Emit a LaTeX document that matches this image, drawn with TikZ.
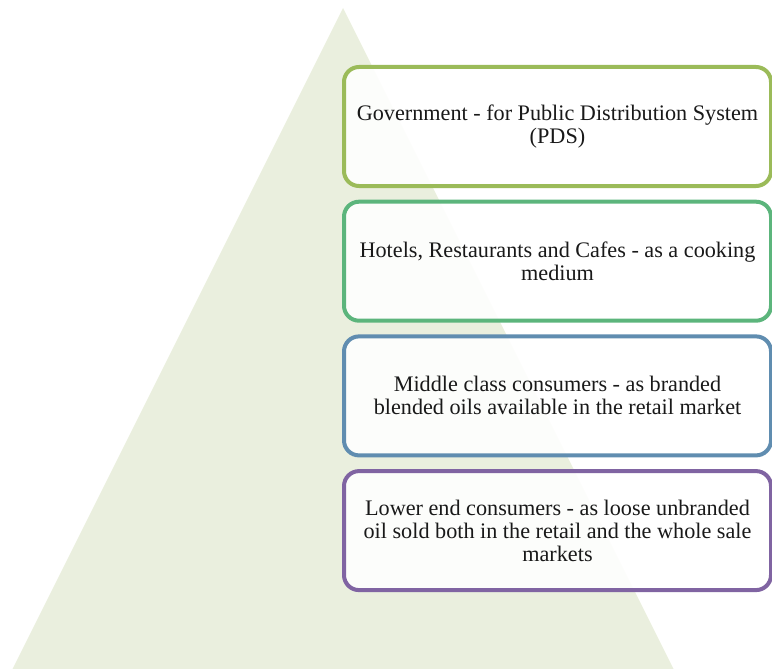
\documentclass[tikz,border=0pt]{standalone}
\usepackage{fontspec}
\setmainfont{Liberation Serif}
\usetikzlibrary{positioning}

\definecolor{pyramidfill}{RGB}{234,239,222}
\definecolor{oliveedge}{RGB}{155,187,89}
\definecolor{greenedge}{RGB}{92,181,124}
\definecolor{blueedge}{RGB}{96,141,176}
\definecolor{purpleedge}{RGB}{128,100,162}

\tikzset{
  segbox/.style={draw, line width=4pt, rounded corners=15pt, fill=white, fill opacity=0.9,
    text opacity=1, minimum width=427pt, minimum height=119pt, align=center,
    font=\fontsize{22.2}{23}\selectfont, text=black!90}
}

\begin{document}
\begin{tikzpicture}[x=1pt, y=-1pt, node distance=11.7pt]
            \useasboundingbox (0,0) rectangle (772,669);
            \clip (0,0) rectangle (772,669);

            % pyramid
            \fill[pyramidfill] (343,8) -- (677,676) -- (9,676) -- cycle;

            % segments
            \node[segbox, draw=oliveedge] (gov) at (557.5,126.5) {Government - for Public Distribution System\\(PDS)};
            \node[segbox, draw=greenedge, below=of gov] (hotels) {Hotels, Restaurants and Cafes - as a cooking\\medium};
            \node[segbox, draw=blueedge, below=of hotels] (middle) {Middle class consumers - as branded\\blended oils available in the retail market};
            \node[segbox, draw=purpleedge, below=of middle] (lower) {Lower end consumers - as loose unbranded\\oil sold both in the retail and the whole sale\\markets};
        \end{tikzpicture}
\end{document}
